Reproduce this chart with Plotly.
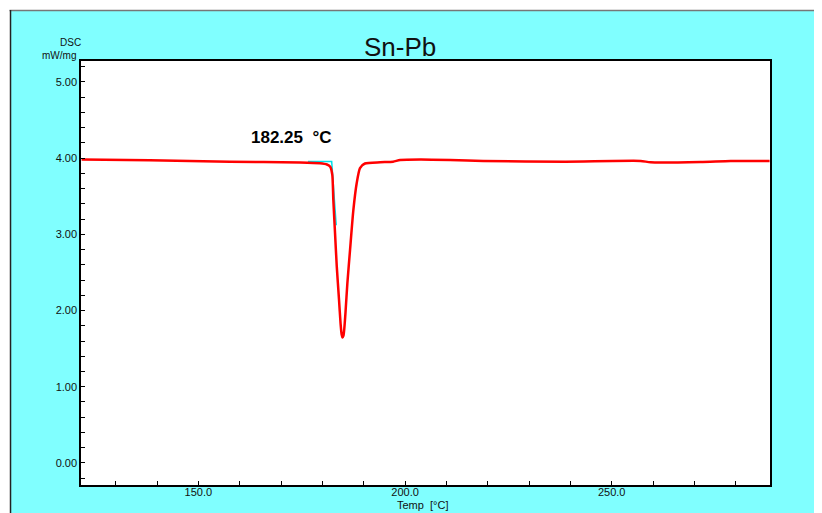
import plotly.graph_objects as go

# DSC curve (Temp in °C, DSC in mW/mg)
temp = [121.75, 138.2, 157.6, 174.6, 179.4, 181.1, 181.9, 182.4, 182.65, 183.06,
        183.48, 184.03, 184.4, 184.65, 184.88, 185.1, 185.3, 185.6, 186.05, 186.7, 187.5, 188.3,
        189.1, 190.3, 194.0, 197.1, 198.8, 203.7, 210.9, 218.9, 238.8, 257.0,
        259.4, 271.5, 278.8, 288.2]
dsc = [3.983, 3.972, 3.954, 3.943, 3.933, 3.917, 3.888, 3.78, 3.45, 3.02,
       2.58, 2.14, 1.83, 1.69, 1.647, 1.67, 1.76, 1.98, 2.36, 2.80, 3.32, 3.67,
       3.87, 3.93, 3.946, 3.954, 3.976, 3.983, 3.976, 3.963, 3.954, 3.963,
       3.946, 3.950, 3.963, 3.963]

# onset construction lines
onset_x = [176.5, 182.25, 183.35]
onset_y = [3.955, 3.955, 3.12]
onset_label = "182.25  °C"

x_range = [121.6, 288.3]
y_range = [-0.29, 5.275]

OFF = 8  # default page margin of the html body
W, H = 822 - OFF, 513 - OFF
L, T = 81.4 - OFF, 61 - OFF
R = W - (769.6 - OFF)
B = H - (485 - OFF)
pw, ph = W - L - R, H - T - B

def px2x(px):
    return (px - OFF - L) / pw

def py2y(py):
    return (H - B - (py - OFF)) / ph

cyan_bg = "#80FFFF"
font_fam = "Liberation Sans, Arial, sans-serif"

fig = go.Figure()
fig.add_trace(go.Scatter(x=onset_x, y=onset_y, mode="lines",
                         line=dict(color="#00E0E8", width=1.5), hoverinfo="skip"))
fig.add_trace(go.Scatter(x=temp, y=dsc, mode="lines",
                         line=dict(color="#FF0000", width=2.5, shape="spline", smoothing=0.6)))

fig.update_layout(
    width=W, height=H,
    margin=dict(l=L, r=R, t=T, b=B, pad=0),
    paper_bgcolor=cyan_bg, plot_bgcolor="white",
    showlegend=False,
    font=dict(family=font_fam, size=11, color="#111"),
    xaxis=dict(range=x_range, tickvals=[150, 200, 250], ticktext=["150.0", "200.0", "250.0"],
               ticks="inside", ticklen=4, tickcolor="black", showgrid=False, zeroline=False,
               showline=True, linecolor="black", linewidth=1.5, mirror=True,
               minor=dict(dtick=10, tick0=0, ticks="inside", ticklen=4, tickcolor="black", showgrid=False),
               tickfont=dict(size=11), ticklabelstandoff=-4),
    yaxis=dict(range=y_range, dtick=1, tick0=0, tickformat=".2f",
               ticks="inside", ticklen=4, tickcolor="black", showgrid=False, zeroline=False,
               showline=True, linecolor="black", linewidth=1.5, mirror=True,
               minor=dict(dtick=0.2, tick0=0, ticks="inside", ticklen=4, tickcolor="black", showgrid=False),
               tickfont=dict(size=11)),
    shapes=[
        # white strips at top and left of the page
        dict(type="rect", xref="paper", yref="paper", x0=px2x(0), x1=px2x(830), y0=py2y(10), y1=py2y(0),
             fillcolor="white", line=dict(width=0), layer="below"),
        dict(type="rect", xref="paper", yref="paper", x0=px2x(0), x1=px2x(10.5), y0=py2y(520), y1=py2y(0),
             fillcolor="white", line=dict(width=0), layer="below"),
        dict(type="line", xref="paper", yref="paper", x0=px2x(10), x1=px2x(830), y0=py2y(10.5), y1=py2y(10.5),
             line=dict(color="#777", width=1.5)),
        dict(type="line", xref="paper", yref="paper", x0=px2x(11), x1=px2x(11), y0=py2y(10), y1=py2y(520),
             line=dict(color="#222", width=1.5)),
    ],
    annotations=[
        dict(text="Sn-Pb", xref="paper", yref="paper", x=px2x(400), y=py2y(47), showarrow=False,
             xanchor="center", yanchor="middle", font=dict(size=26, color="#111", family=font_fam)),
        dict(text="DSC", xref="paper", yref="paper", x=px2x(83), y=py2y(42), showarrow=False,
             xanchor="right", yanchor="middle", font=dict(size=10)),
        dict(text="mW/mg", xref="paper", yref="paper", x=px2x(78), y=py2y(55), showarrow=False,
             xanchor="right", yanchor="middle", font=dict(size=10)),
        dict(text="Temp  [°C]", xref="paper", yref="paper", x=px2x(423), y=py2y(505), showarrow=False,
             xanchor="center", yanchor="middle", font=dict(size=11)),
        dict(text="<b>" + onset_label + "</b>", xref="paper", yref="paper", x=px2x(249), y=py2y(137),
             showarrow=False, xanchor="left", yanchor="middle", font=dict(size=17, color="black")),
    ],
)

fig.write_html("out.html")
